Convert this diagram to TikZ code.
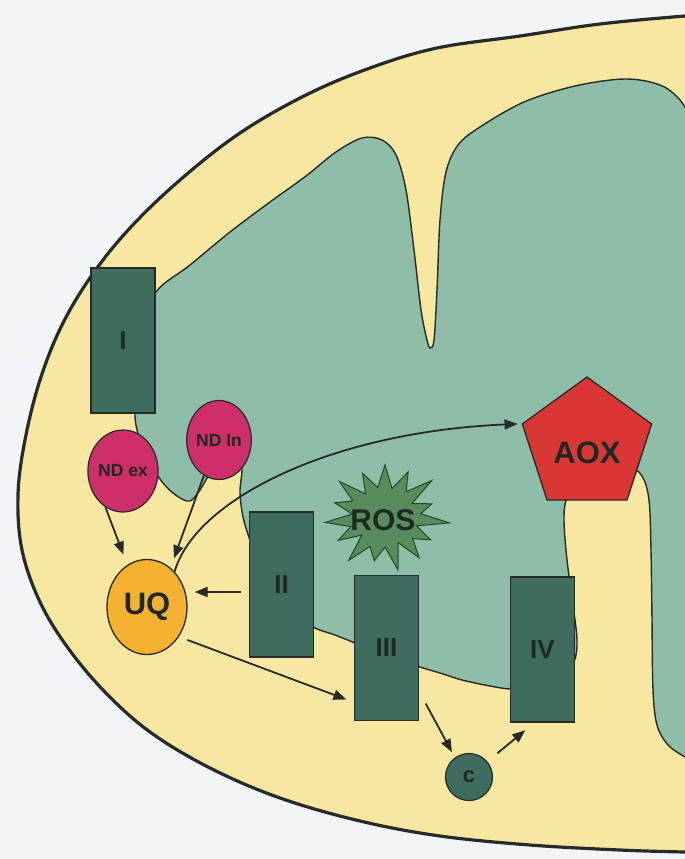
\documentclass[tikz,border=0pt]{standalone}
\usepackage{fontspec}
\setmainfont{Liberation Sans}
\usetikzlibrary{arrows.meta,shapes.geometric}
\definecolor{bgc}{RGB}{242,245,248}
\definecolor{ims}{RGB}{248,231,160}
\definecolor{mtx}{RGB}{142,190,167}
\definecolor{cplx}{RGB}{62,108,95}
\definecolor{ink}{RGB}{38,42,40}
\definecolor{ndfill}{RGB}{206,46,106}
\definecolor{uqfill}{RGB}{245,178,48}
\definecolor{aoxfill}{RGB}{218,54,52}
\definecolor{rosfill}{RGB}{88,140,92}
\definecolor{labelc}{RGB}{30,40,36}
\begin{document}
\begin{tikzpicture}[x=1pt,y=-1pt,
  complexbox/.style={draw=ink, line width=1.2pt, fill=cplx, minimum width=64pt,
    minimum height=145pt, inner sep=0pt, text=labelc,
    font=\bfseries\fontsize{26}{26}\selectfont},
  ndcarrier/.style={draw=ink, line width=1.2pt, fill=ndfill, ellipse, inner sep=0pt,
    text=labelc, font=\bfseries\fontsize{17.5}{17.5}\selectfont},
  flow/.style={draw=ink, line width=1.8pt, -{Triangle[length=13pt,width=10pt]}},
  membrane/.style={draw=ink, line width=1.4pt},
]
\useasboundingbox (0,0) rectangle (685,859);
\fill[bgc] (0,0) rectangle (685,859);

\begin{scope}
\clip (0,0) rectangle (685,859);
% outer membrane with intermembrane space
\path[fill=ims, draw=ink, line width=3.2pt]
  plot[smooth, tension=0.6] coordinates {(720,14) (685,16) (600,24) (520,36) (437,48)
    (370,68) (306,95) (240,133) (180,180) (130,228) (92,275) (62,325) (40,380)
    (25,440) (18,495) (22,550) (40,602) (68,648) (105,692) (150,732) (210,768)
    (280,798) (360,821) (440,836) (530,845) (620,850) (685,852) (720,852)}
  -- (760,900) -- (760,-20) -- cycle;
% inner membrane with matrix and cristae
\path[fill=mtx, membrane]
  plot[smooth, tension=0.55] coordinates {(145,330) (156,292) (190,265) (230,232)
    (270,202) (306,176) (336,152) (362,138) (382,140) (396,155) (406,190) (414,250)
    (421,310) (427,340) (430,348) (434,340) (437,290) (440,220) (446,172) (458,145)
    (480,127) (524,102) (575,86) (625,79) (660,85) (680,100) (695,125)}
  -- (720,130) -- (720,770) --
  plot[smooth, tension=0.55] coordinates {(700,765) (685,757) (668,745) (657,725)
    (653,690) (652,620) (651,550) (649,500) (642,476) (628,466) (605,468) (582,480)
    (567,498) (564,520) (567,560) (573,605) (577,640) (574,662) (560,680) (530,688)
    (510,689) (490,686) (462,680) (440,673) (420,667) (395,658) (370,649) (355,643)
    (335,635) (313,627) (290,610) (262,570) (250,540) (243,517) (240,492) (242,470)
    (240,450) (225,462) (210,474) (200,490) (190,501) (177,496) (163,483) (150,463)
    (140,440) (135,416) (138,380)}
  -- cycle;
\end{scope}

% respiratory complexes
\node[complexbox] (c1) at (123,340.5) {I};
\node[complexbox] (c2) at (281.5,584.5) {II};
\node[complexbox] (c3) at (386.5,648) {III};
\node[complexbox] (c4) at (542.5,649.5) {IV};

% alternative NADH dehydrogenases
\node[ndcarrier, minimum width=65pt, minimum height=82pt] (ndex) at (123,471) {ND ex};
\node[ndcarrier, minimum width=64pt, minimum height=79pt] (ndin) at (219,440) {ND In};

% ubiquinone pool
\node[ellipse, draw=ink, line width=1.3pt, fill=uqfill, minimum width=80pt,
  minimum height=95pt, inner sep=0pt, text=labelc,
  font=\bfseries\fontsize{31}{31}\selectfont] (uq) at (147,607) {UQ};

% cytochrome c
\node[circle, draw=ink, line width=1.2pt, fill=cplx, minimum size=47pt, inner sep=0pt,
  text=labelc, font=\bfseries\fontsize{22}{22}\selectfont] (cytc) at (469,777) {c};

% alternative oxidase
\node[regular polygon, regular polygon sides=5, draw=ink, line width=1.3pt,
  fill=aoxfill, minimum size=136pt, inner sep=0pt,
  label={[text=labelc, font=\bfseries\fontsize{31}{31}\selectfont, yshift=-8pt]center:AOX}]
  (aox) at (587,445) {};

% reactive oxygen species burst
\begin{scope}[shift={(385,517)}]
\draw[fill=rosfill, draw=ink!85!green, line width=1pt, line join=miter]
  (0,-52)
  \foreach \k/\ri/\ro in {0/0.56/0.95, 1/0.60/1.05, 2/0.52/0.82, 3/0.60/1.08,
      4/0.55/0.88, 5/0.62/0.97, 6/0.54/1.04, 7/0.58/0.86, 8/0.62/1.03,
      9/0.52/0.90, 10/0.60/1.00, 11/0.55/0.88, 12/0.62/1.02, 13/0.55/0.92,
      14/0.58/1.00}
  { -- ({\ri*60*cos(78-24*\k)},{-\ri*52*sin(78-24*\k)})
    -- ({\ro*60*cos(66-24*\k)},{-\ro*52*sin(66-24*\k)}) }
  -- cycle;
\end{scope}
\node[text=labelc, font=\bfseries\fontsize{30}{30}\selectfont] (ros) at (383,520) {ROS};

% electron flow
\draw[flow, shorten >=11pt] (ndex.244) -- (uq.115);
\draw[flow, shorten >=10pt] (ndin.247) -- (uq.59);
\draw[flow, shorten >=4pt] (uq.52) .. controls (195,500) and (330,432) .. (aox.corner 2);
\coordinate (iiout) at ([yshift=-7.5pt]c2.west);
\draw[flow, shorten <=8pt, shorten >=7pt] (iiout) -- (iiout -| uq.east);
\draw[flow, shorten <=9pt, shorten >=8pt] (uq.-43) -- (c3.239);
\draw[flow, shorten <=14pt, shorten >=6pt] (c3.-53) -- (cytc.126);
\draw[flow, shorten <=13pt, shorten >=12pt] (cytc.40) -- ([xshift=-8pt]c4.south);
\end{tikzpicture}
\end{document}
